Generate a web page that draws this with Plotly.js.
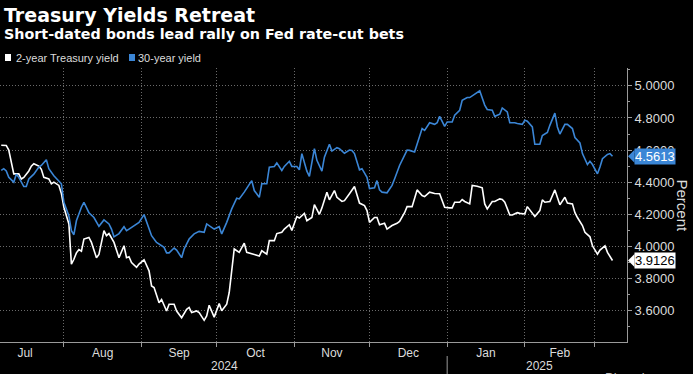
<!DOCTYPE html>
<html>
<head>
<meta charset="utf-8">
<script src="https://cdn.plot.ly/plotly-3.0.1.min.js"></script>
<style>html,body{margin:0;padding:0;background:#000;}#chart{width:693px;height:374px;}</style>
</head>
<body>
<div id="chart"></div>
<script>
// ---- data ----
const chartTitle = "Treasury Yields Retreat";
const chartSubtitle = "Short-dated bonds lead rally on Fed rate-cut bets";
const seriesNames = ["2-year Treasury yield", "30-year yield"];
const yTickValues = [3.6, 3.8, 4.0, 4.2, 4.4, 4.6, 4.8, 5.0];
const yearLabels = ["2024", "2025"];
const yearLabelDates = ["2024-10-04", "2025-02-06 16:00"];
const yearBreakDate = "2025-01-01";
const axisTitle = "Percent";

const twoYearDates = ["2024-07-07","2024-07-09","2024-07-10","2024-07-11","2024-07-12","2024-07-14","2024-07-15","2024-07-16","2024-07-18","2024-07-19","2024-07-20","2024-07-22","2024-07-23","2024-07-24","2024-07-26","2024-07-27","2024-07-28","2024-07-30","2024-07-31",
"2024-08-01","2024-08-03","2024-08-04","2024-08-05","2024-08-06","2024-08-07","2024-08-08","2024-08-09","2024-08-11","2024-08-12","2024-08-14","2024-08-15","2024-08-17","2024-08-18","2024-08-19","2024-08-21","2024-08-23","2024-08-25","2024-08-26","2024-08-27","2024-08-28","2024-08-30","2024-08-31",
"2024-09-02","2024-09-04","2024-09-05","2024-09-06","2024-09-08","2024-09-09","2024-09-11","2024-09-12","2024-09-14","2024-09-15","2024-09-17","2024-09-19","2024-09-20","2024-09-21","2024-09-23","2024-09-24","2024-09-26","2024-09-27","2024-09-28","2024-09-30",
"2024-10-02","2024-10-03","2024-10-05","2024-10-06","2024-10-07","2024-10-08","2024-10-10","2024-10-12","2024-10-13","2024-10-15","2024-10-16","2024-10-18","2024-10-19","2024-10-21","2024-10-22","2024-10-24","2024-10-25","2024-10-27","2024-10-28","2024-10-30","2024-10-31",
"2024-11-02","2024-11-03","2024-11-05","2024-11-06","2024-11-08","2024-11-09","2024-11-11","2024-11-12","2024-11-14","2024-11-15","2024-11-17","2024-11-18","2024-11-20","2024-11-21","2024-11-23","2024-11-25","2024-11-27","2024-11-29","2024-11-30",
"2024-12-01","2024-12-03","2024-12-04","2024-12-05","2024-12-07","2024-12-08","2024-12-10","2024-12-12","2024-12-13","2024-12-15","2024-12-16","2024-12-18","2024-12-20","2024-12-22","2024-12-23","2024-12-25","2024-12-27","2024-12-29","2024-12-31",
"2025-01-02","2025-01-03","2025-01-04","2025-01-06","2025-01-07","2025-01-08","2025-01-10","2025-01-11","2025-01-13","2025-01-15","2025-01-16","2025-01-17","2025-01-19","2025-01-20","2025-01-22","2025-01-23","2025-01-24","2025-01-25","2025-01-26","2025-01-27","2025-01-29","2025-01-30",
"2025-02-01","2025-02-02","2025-02-04","2025-02-05","2025-02-07","2025-02-08","2025-02-09","2025-02-11","2025-02-13","2025-02-14","2025-02-15","2025-02-17","2025-02-18","2025-02-20","2025-02-21","2025-02-22","2025-02-24","2025-02-25","2025-02-27","2025-02-28",
"2025-03-02","2025-03-03","2025-03-05","2025-03-06","2025-03-08"];
const twoYearValues = [4.63,4.629,4.60,4.515,4.452,4.452,4.42,4.43,4.47,4.50,4.515,4.50,4.48,4.43,4.42,4.39,4.40,4.38,4.33,
4.244,4.14,3.89,3.92,3.96,3.98,3.97,4.046,4.056,4.025,3.93,3.95,4.098,4.067,4.08,4.025,3.93,4.004,3.93,3.936,3.90,3.87,3.89,
3.917,3.848,3.754,3.744,3.65,3.67,3.598,3.64,3.64,3.598,3.556,3.609,3.62,3.588,3.598,3.588,3.54,3.567,3.634,3.56,
3.644,3.60,3.64,3.713,3.848,3.984,3.963,4.02,3.963,3.956,3.95,3.94,3.973,3.952,4.036,4.036,4.08,4.088,4.108,4.135,4.10,
4.186,4.177,4.206,4.16,4.18,4.26,4.20,4.24,4.338,4.29,4.348,4.306,4.28,4.285,4.328,4.373,4.27,4.254,4.223,
4.15,4.18,4.18,4.135,4.144,4.108,4.13,4.144,4.156,4.21,4.248,4.248,4.352,4.317,4.31,4.338,4.33,4.328,4.244,
4.24,4.24,4.275,4.275,4.292,4.28,4.265,4.38,4.375,4.365,4.265,4.234,4.28,4.28,4.296,4.292,4.275,4.234,4.196,4.196,4.21,4.206,
4.202,4.248,4.21,4.186,4.223,4.29,4.275,4.28,4.352,4.31,4.26,4.306,4.27,4.265,4.21,4.18,4.13,4.088,4.06,4.004,
3.952,3.977,4.004,3.963,3.9126];

const thirtyYearDates = ["2024-07-07","2024-07-08","2024-07-09","2024-07-10","2024-07-12","2024-07-13","2024-07-14","2024-07-16","2024-07-17","2024-07-18","2024-07-20","2024-07-22","2024-07-23","2024-07-25","2024-07-26","2024-07-28","2024-07-31",
"2024-08-01","2024-08-03","2024-08-04","2024-08-05","2024-08-06","2024-08-08","2024-08-09","2024-08-11","2024-08-13","2024-08-15","2024-08-17","2024-08-19","2024-08-20","2024-08-21","2024-08-23","2024-08-25","2024-08-26","2024-08-27","2024-08-29","2024-08-31",
"2024-09-02","2024-09-03","2024-09-05","2024-09-07","2024-09-08","2024-09-10","2024-09-11","2024-09-12","2024-09-14","2024-09-15","2024-09-17","2024-09-18","2024-09-20","2024-09-22","2024-09-24","2024-09-26","2024-09-27","2024-09-28","2024-09-30",
"2024-10-02","2024-10-03","2024-10-05","2024-10-07","2024-10-09","2024-10-10","2024-10-12","2024-10-13","2024-10-15","2024-10-16","2024-10-18","2024-10-19","2024-10-21","2024-10-22","2024-10-24","2024-10-25","2024-10-27","2024-10-28","2024-10-30","2024-10-31",
"2024-11-02","2024-11-03","2024-11-04","2024-11-06","2024-11-07","2024-11-09","2024-11-10","2024-11-12","2024-11-13","2024-11-15","2024-11-16","2024-11-18","2024-11-19","2024-11-21","2024-11-23","2024-11-24","2024-11-25","2024-11-27","2024-11-28","2024-11-30",
"2024-12-01","2024-12-03","2024-12-04","2024-12-05","2024-12-06","2024-12-08","2024-12-10","2024-12-11","2024-12-13","2024-12-16","2024-12-17","2024-12-19","2024-12-21","2024-12-22","2024-12-23","2024-12-25","2024-12-27","2024-12-28","2024-12-29","2024-12-31",
"2025-01-01","2025-01-03","2025-01-04","2025-01-06","2025-01-07","2025-01-09","2025-01-10","2025-01-12","2025-01-14","2025-01-16","2025-01-17","2025-01-19","2025-01-20","2025-01-22","2025-01-23","2025-01-25","2025-01-26","2025-01-28","2025-01-29","2025-01-31",
"2025-02-01","2025-02-02","2025-02-04","2025-02-05","2025-02-07","2025-02-08","2025-02-10","2025-02-11","2025-02-13","2025-02-14","2025-02-15","2025-02-17","2025-02-18","2025-02-20","2025-02-21","2025-02-23","2025-02-24","2025-02-26","2025-02-27","2025-02-28",
"2025-03-02","2025-03-03","2025-03-04","2025-03-06","2025-03-07","2025-03-08"];
const thirtyYearValues = [4.473,4.484,4.47,4.43,4.40,4.45,4.43,4.373,4.373,4.42,4.45,4.494,4.504,4.54,4.484,4.44,4.39,
4.275,4.19,4.098,4.073,4.16,4.244,4.275,4.21,4.18,4.125,4.165,4.14,4.108,4.06,4.08,4.123,4.098,4.108,4.13,4.15,
4.198,4.15,4.067,4.025,4.015,3.994,3.96,3.96,3.99,3.977,3.93,3.984,4.046,4.078,4.094,4.088,4.14,4.13,4.108,
4.123,4.078,4.15,4.234,4.30,4.296,4.338,4.36,4.41,4.348,4.306,4.39,4.39,4.494,4.498,4.52,4.473,4.498,4.53,4.498,
4.498,4.477,4.578,4.469,4.436,4.609,4.536,4.469,4.556,4.636,4.594,4.615,4.609,4.58,4.60,4.598,4.578,4.477,4.484,4.43,
4.36,4.365,4.41,4.352,4.338,4.334,4.38,4.42,4.504,4.60,4.598,4.588,4.686,4.734,4.723,4.77,4.76,4.77,4.81,4.748,
4.775,4.775,4.817,4.848,4.91,4.927,4.927,4.948,4.969,4.88,4.853,4.848,4.81,4.823,4.862,4.838,4.77,4.77,4.765,4.76,
4.786,4.78,4.744,4.636,4.636,4.69,4.71,4.754,4.83,4.744,4.70,4.76,4.76,4.734,4.678,4.644,4.578,4.51,4.53,4.51,
4.452,4.494,4.546,4.573,4.578,4.5613];

// ---- styling ----
const W = 693, H = 374;
const M = {l: 0, r: 66, t: 68, b: 32};
const PW = W - M.l - M.r, PH = H - M.t - M.b;
const px = x => (x - M.l) / PW;          // pixel -> paper x
const py = y => (H - M.b - y) / PH;      // pixel -> paper y
const WHITE = "#ffffff", BLUE = "#3b86d6", TXT = "#dcdcdc", AXIS = "#9a9a9a", GRID = "#6a6a6a";
const FONT = "Liberation Sans, Arial, sans-serif";
const BOLD = "DejaVu Sans, sans-serif";

const traces = [
  {x: twoYearDates, y: twoYearValues, name: seriesNames[0], type: "scatter", mode: "lines",
   line: {color: WHITE, width: 1.6}},
  {x: thirtyYearDates, y: thirtyYearValues, name: seriesNames[1], type: "scatter", mode: "lines",
   line: {color: BLUE, width: 1.6}}
];

const last2 = twoYearValues[twoYearValues.length - 1];
const last30 = thirtyYearValues[thirtyYearValues.length - 1];
const halfH = 6.5 / PH * (5.111 - 3.405);

function pointer(v, color) {
  return {type: "path", xref: "paper", yref: "y", layer: "above",
    path: `M ${px(628)},${v} L ${px(634.5)},${v + halfH} L ${px(634.5)},${v - halfH} Z`,
    fillcolor: color, line: {width: 0}};
}
function valueBox(v, bg, fg) {
  return {xref: "paper", yref: "y", x: px(634), y: v, xanchor: "left", yanchor: "middle",
    text: v.toFixed(4), showarrow: false, bgcolor: bg, borderpad: 0,
    font: {family: FONT, size: 13, color: fg}};
}

const layout = {
  width: W, height: H,
  paper_bgcolor: "#000", plot_bgcolor: "#000",
  margin: {l: M.l, r: M.r, t: M.t, b: M.b, pad: 0},
  showlegend: false,
  xaxis: {
    type: "date", range: ["2024-07-06 12:00", "2025-03-13 19:00"],
    tickmode: "linear", tick0: "2024-07-01", dtick: "M1", tickformat: "%b", ticklabelmode: "period",
    ticks: "outside", ticklen: 4, tickcolor: AXIS, tickwidth: 1, ticklabelstandoff: -4,
    showgrid: true, gridcolor: GRID, griddash: "1px,2px", gridwidth: 1,
    showline: true, linecolor: AXIS, linewidth: 1, zeroline: false,
    tickfont: {family: FONT, size: 12, color: TXT}
  },
  yaxis: {
    side: "right", range: [3.405, 5.111],
    tickmode: "array", tickvals: yTickValues, tickformat: ".4f",
    ticks: "outside", ticklen: 4, tickcolor: AXIS, tickwidth: 1,
    minor: {tickmode: "linear", tick0: 3.5, dtick: 0.2, ticklen: 2, tickcolor: AXIS, showgrid: false},
    showgrid: true, gridcolor: GRID, griddash: "1px,2px", gridwidth: 1,
    showline: true, linecolor: AXIS, linewidth: 1, zeroline: false,
    tickfont: {family: FONT, size: 13, color: TXT}
  },
  shapes: [
    {type: "rect", xref: "paper", yref: "paper", x0: px(5), x1: px(11), y0: py(61), y1: py(54), fillcolor: WHITE, line: {width: 0}},
    {type: "rect", xref: "paper", yref: "paper", x0: px(129), x1: px(135), y0: py(61), y1: py(54), fillcolor: BLUE, line: {width: 0}},
    {type: "line", xref: "x", yref: "paper", x0: yearBreakDate, x1: yearBreakDate, y0: py(356), y1: py(374), line: {color: AXIS, width: 1}},
    pointer(last30, BLUE),
    pointer(last2, WHITE)
  ],
  annotations: [
    {xref: "paper", yref: "paper", x: px(2), y: py(15), xanchor: "left", yanchor: "middle", showarrow: false,
     text: "<b>" + chartTitle + "</b>", font: {family: BOLD, size: 19, color: "#ffffff"}},
    {xref: "paper", yref: "paper", x: px(2), y: py(34.5), xanchor: "left", yanchor: "middle", showarrow: false,
     text: "<b>" + chartSubtitle + "</b>", font: {family: BOLD, size: 14.3, color: "#ffffff"}},
    {xref: "paper", yref: "paper", x: px(13.5), y: py(57.5), xanchor: "left", yanchor: "middle", showarrow: false,
     text: seriesNames[0], font: {family: FONT, size: 11, color: TXT}},
    {xref: "paper", yref: "paper", x: px(136), y: py(57.5), xanchor: "left", yanchor: "middle", showarrow: false,
     text: seriesNames[1], font: {family: FONT, size: 11, color: TXT}},
    {xref: "x", yref: "paper", x: yearLabelDates[0], y: py(365.5), xanchor: "center", yanchor: "middle", showarrow: false,
     text: yearLabels[0], font: {family: FONT, size: 12, color: TXT}},
    {xref: "x", yref: "paper", x: yearLabelDates[1], y: py(365.5), xanchor: "center", yanchor: "middle", showarrow: false,
     text: yearLabels[1], font: {family: FONT, size: 12, color: TXT}},
    {xref: "paper", yref: "paper", x: px(681.5), y: py(206), xanchor: "center", yanchor: "middle", showarrow: false,
     text: axisTitle, textangle: 90, font: {family: FONT, size: 15, color: TXT}},
    {xref: "paper", yref: "paper", x: px(603), y: py(377), xanchor: "left", yanchor: "middle", showarrow: false,
     text: "Bloomberg", font: {family: FONT, size: 13, color: "#bbbbbb"}},
    valueBox(last30, BLUE, "#ffffff"),
    valueBox(last2, "#ffffff", "#000000")
  ]
};

Plotly.newPlot("chart", traces, layout, {staticPlot: true, displayModeBar: false});
</script>
</body>
</html>
